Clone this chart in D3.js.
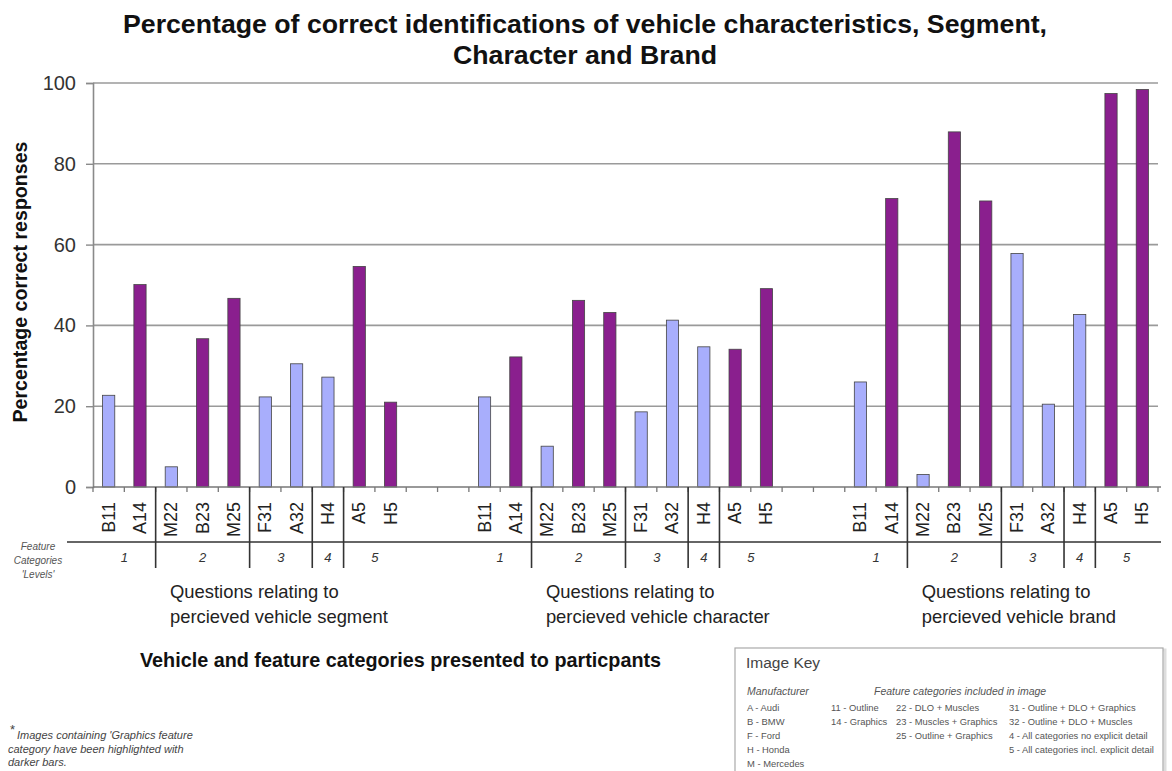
<!DOCTYPE html>
<html>
<head>
<meta charset="utf-8">
<script src="https://cdn.jsdelivr.net/npm/d3@7"></script>
<style>
  html, body { margin: 0; padding: 0; background: #fff; }
  svg { display: block; font-family: "Liberation Sans", Arial, sans-serif; }
</style>
</head>
<body>
<svg id="chart" width="1172" height="771"></svg>
<script>
// Vehicle/feature image codes shown under each group of bars
const categories = ["B11", "A14", "M22", "B23", "M25", "F31", "A32", "H4", "A5", "H5"];
// Images that contain the Graphics feature category are drawn with darker bars
const hasGraphics = [false, true, false, true, true, false, false, false, true, true];

// Percentage of correct responses per question type
const segmentValues   = [22.7, 50.1, 5.0, 36.7, 46.7, 22.3, 30.5, 27.2, 54.6, 21.0];
const characterValues = [22.3, 32.2, 10.1, 46.2, 43.2, 18.6, 41.3, 34.7, 34.1, 49.1];
const brandValues     = [26.0, 71.4, 3.1, 87.9, 70.8, 57.8, 20.5, 42.7, 97.4, 98.4];

const groupNames = [
  ["Questions relating to", "percieved vehicle segment"],
  ["Questions relating to", "percieved vehicle character"],
  ["Questions relating to", "percieved vehicle brand"]
];

// Feature category levels and how many images fall in each
const levelLabels = ["1", "2", "3", "4", "5"];
const levelSizes  = [2, 3, 2, 1, 2];

const yTicks = [0, 20, 40, 60, 80, 100];

const seriesValues = [segmentValues, characterValues, brandValues];
const gapSlots = 2;

// Build the slot list: each group of categories, then empty spacer slots between groups
const slots = [];
seriesValues.forEach((vals, gi) => {
  categories.forEach((c, ci) => {
    slots.push({ key: gi + "-" + c, group: gi, index: ci, label: c, value: vals[ci], dark: hasGraphics[ci] });
  });
  if (gi < seriesValues.length - 1) {
    for (let k = 0; k < gapSlots; k++) slots.push({ key: gi + "-gap" + k, group: gi, gap: true });
  }
});

const svg = d3.select("#chart");
const margin = { left: 93, right: 1158, top: 83, bottom: 487 };

const x = d3.scaleBand()
  .domain(slots.map(d => d.key))
  .range([margin.left, margin.right])
  .paddingInner(0).paddingOuter(0);

const y = d3.scaleLinear().domain([0, 100]).range([margin.bottom, margin.top]);

const step = x.step();
const barW = step * 0.39;

// Title
const title = svg.append("text")
  .attr("text-anchor", "middle")
  .attr("font-weight", "bold")
  .attr("font-size", 26.7)
  .attr("fill", "#111");
title.append("tspan").attr("x", 585).attr("y", 33)
  .text("Percentage of correct identifications of vehicle characteristics, Segment,");
title.append("tspan").attr("x", 585).attr("y", 64)
  .text("Character and Brand");

// Gridlines
svg.append("g")
  .selectAll("line")
  .data(yTicks.filter(t => t > 0))
  .join("line")
  .attr("x1", margin.left).attr("x2", margin.right)
  .attr("y1", d => y(d)).attr("y2", d => y(d))
  .attr("stroke", "#9a9a9a").attr("stroke-width", 1.6);

// Y axis
const yAxis = svg.append("g")
  .attr("transform", `translate(${margin.left},0)`)
  .call(d3.axisLeft(y).tickValues(yTicks).tickSize(7).tickPadding(10));
yAxis.select(".domain").attr("stroke", "#8a8a8a").attr("stroke-width", 1.6);
yAxis.selectAll(".tick line").attr("stroke", "#8a8a8a").attr("stroke-width", 1.4);
yAxis.selectAll(".tick text")
  .attr("font-size", 20)
  .attr("font-family", "'Liberation Sans', Arial, sans-serif")
  .attr("fill", "#333");

// Y axis title
svg.append("text")
  .attr("transform", `translate(27,${(margin.top + margin.bottom) / 2 - 3}) rotate(-90)`)
  .attr("text-anchor", "middle")
  .attr("font-weight", "bold")
  .attr("font-size", 19.6)
  .attr("fill", "#111")
  .text("Percentage correct responses");

// Bars
svg.append("g")
  .selectAll("rect")
  .data(slots.filter(d => !d.gap))
  .join("rect")
  .attr("x", d => x(d.key) + (step - barW) / 2)
  .attr("width", barW)
  .attr("y", d => y(d.value))
  .attr("height", d => y(0) - y(d.value))
  .attr("fill", d => d.dark ? "#8a1f8e" : "#a8aefc")
  .attr("stroke", "#444")
  .attr("stroke-width", 0.8);

// X axis line and slot boundary ticks
svg.append("line")
  .attr("x1", margin.left).attr("x2", margin.right + 3)
  .attr("y1", y(0)).attr("y2", y(0))
  .attr("stroke", "#777").attr("stroke-width", 1.6);
svg.append("g")
  .selectAll("line")
  .data(d3.range(slots.length + 1))
  .join("line")
  .attr("x1", i => margin.left + i * step).attr("x2", i => margin.left + i * step)
  .attr("y1", y(0)).attr("y2", y(0) + 5)
  .attr("stroke", "#777").attr("stroke-width", 1.3);

// Category labels, rotated
svg.append("g")
  .selectAll("text")
  .data(slots.filter(d => !d.gap))
  .join("text")
  .attr("transform", d => `translate(${x(d.key) + step / 2 + 6},502) rotate(-90)`)
  .attr("text-anchor", "end")
  .attr("font-size", 18)
  .attr("fill", "#222")
  .text(d => d.label);

// Level row: horizontal rule, separators and level numbers
svg.append("line")
  .attr("x1", 67).attr("x2", margin.right + 3)
  .attr("y1", 542).attr("y2", 542)
  .attr("stroke", "#333").attr("stroke-width", 1.6);

const levelStarts = levelSizes.map((n, i) => d3.sum(levelSizes.slice(0, i)));
seriesValues.forEach((vals, gi) => {
  const first = x(gi + "-" + categories[0]);
  const sepG = svg.append("g");
  levelStarts.slice(1).forEach(s => {
    const sx = first + s * step;
    sepG.append("line")
      .attr("x1", sx).attr("x2", sx)
      .attr("y1", y(0)).attr("y2", 568)
      .attr("stroke", "#333").attr("stroke-width", 1.6);
  });
  levelLabels.forEach((lab, li) => {
    const cx = first + (levelStarts[li] + levelSizes[li] / 2) * step;
    sepG.append("text")
      .attr("x", cx).attr("y", 562)
      .attr("text-anchor", "middle")
      .attr("font-style", "italic")
      .attr("font-size", 13)
      .attr("fill", "#333")
      .text(lab);
  });
  // Group caption
  const cap = svg.append("text")
    .attr("font-size", 18.4)
    .attr("fill", "#222");
  groupNames[gi].forEach((line, li) => {
    cap.append("tspan")
      .attr("x", first + 77)
      .attr("y", 598 + li * 25)
      .text(line);
  });
});

// Level row heading
const lvl = svg.append("text")
  .attr("text-anchor", "middle")
  .attr("font-style", "italic")
  .attr("font-size", 10)
  .attr("fill", "#555");
["Feature", "Categories", "'Levels'"].forEach((t, i) => {
  lvl.append("tspan").attr("x", 38).attr("y", 550 + i * 14).text(t);
});

// X axis title
svg.append("text")
  .attr("x", 140).attr("y", 667)
  .attr("font-weight", "bold")
  .attr("font-size", 19.8)
  .attr("fill", "#111")
  .text("Vehicle and feature categories presented to particpants");

// Footnote
const note = svg.append("text")
  .attr("font-style", "italic")
  .attr("font-size", 11)
  .attr("fill", "#444");
note.append("tspan").attr("x", 10).attr("y", 734).attr("font-size", 13).attr("font-style", "normal").text("*");
note.append("tspan").attr("x", 17).attr("y", 739).text("Images containing 'Graphics feature");
note.append("tspan").attr("x", 8).attr("y", 753).text("category have been highlighted with");
note.append("tspan").attr("x", 8).attr("y", 766).text("darker bars.");

// Image key panel
const key = svg.append("g");
key.append("rect")
  .attr("x", 737).attr("y", 650).attr("width", 428).attr("height", 130)
  .attr("fill", "none").attr("stroke", "#ddd").attr("stroke-width", 3);
key.append("rect")
  .attr("x", 735).attr("y", 648).attr("width", 428).attr("height", 130)
  .attr("fill", "#fff").attr("stroke", "#aaa").attr("stroke-width", 1.2);
key.append("text")
  .attr("x", 746).attr("y", 668)
  .attr("font-size", 15.5).attr("fill", "#444")
  .text("Image Key");
key.append("text")
  .attr("x", 747).attr("y", 695)
  .attr("font-size", 10.5).attr("font-style", "italic").attr("fill", "#555")
  .text("Manufacturer");
key.append("text")
  .attr("x", 874).attr("y", 695)
  .attr("font-size", 10.5).attr("font-style", "italic").attr("fill", "#555")
  .text("Feature categories included in image");

const keyCols = [
  { x: 747,  rows: ["A - Audi", "B - BMW", "F - Ford", "H - Honda", "M - Mercedes"] },
  { x: 831,  rows: ["11 - Outline", "14 - Graphics"] },
  { x: 896,  rows: ["22 - DLO + Muscles", "23 - Muscles + Graphics", "25 - Outline + Graphics"] },
  { x: 1009, rows: ["31 - Outline + DLO + Graphics", "32 - Outline + DLO + Muscles",
                    "4 - All categories no explicit detail", "5 - All categories incl. explicit detail"] }
];
keyCols.forEach(col => {
  col.rows.forEach((r, i) => {
    key.append("text")
      .attr("x", col.x).attr("y", 711 + i * 14)
      .attr("font-size", 9.4).attr("fill", "#555")
      .text(r);
  });
});
</script>
</body>
</html>
